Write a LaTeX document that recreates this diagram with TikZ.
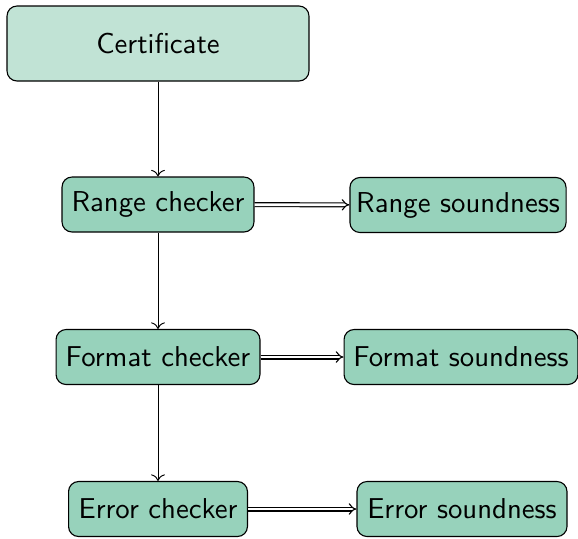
\documentclass[tikz,border=0pt]{standalone}
\usetikzlibrary{arrows.meta}
\definecolor{certfill}{HTML}{C1E3D5}
\definecolor{boxfill}{HTML}{97D2BB}
\begin{document}
\begin{tikzpicture}[x=0.36pt,y=-0.36pt,
  base/.style={draw, rounded corners=3.6pt, inner xsep=1.5pt, font=\sffamily\fontsize{10.35}{12}\selectfont, text=black, line width=0.4pt},
  cert/.style={base, fill=certfill, minimum height=27pt},
  box/.style={base, fill=boxfill, minimum height=19.8pt},
  flow/.style={->, line width=0.35pt},
  impl/.style={double, double distance=1pt, line width=0.4pt, -{Implies}}]
\useasboundingbox (0,0) rectangle (578,538);
\node[cert, minimum width=108.7pt] (cert) at (158,43.5) {Certificate};
\node[box, minimum width=69.1pt] (rc) at (158,204.5) {Range checker};
\node[box, minimum width=77.8pt] (rs) at (458,205) {Range soundness};
\node[box, minimum width=73.4pt] (fc) at (158,357) {Format checker};
\node[box, minimum width=84.2pt] (fs) at (461,357) {Format soundness};
\node[box, minimum width=64.4pt] (ec) at (158,509) {Error checker};
\node[box, minimum width=75.6pt] (es) at (462,509) {Error soundness};
\draw[flow] (cert) -- (rc);
\draw[flow] (rc) -- (fc);
\draw[flow] (fc) -- (ec);
\draw[impl] (rc) -- (rs);
\draw[impl] (fc) -- (fs);
\draw[impl] (ec) -- (es);
\end{tikzpicture}
\end{document}
